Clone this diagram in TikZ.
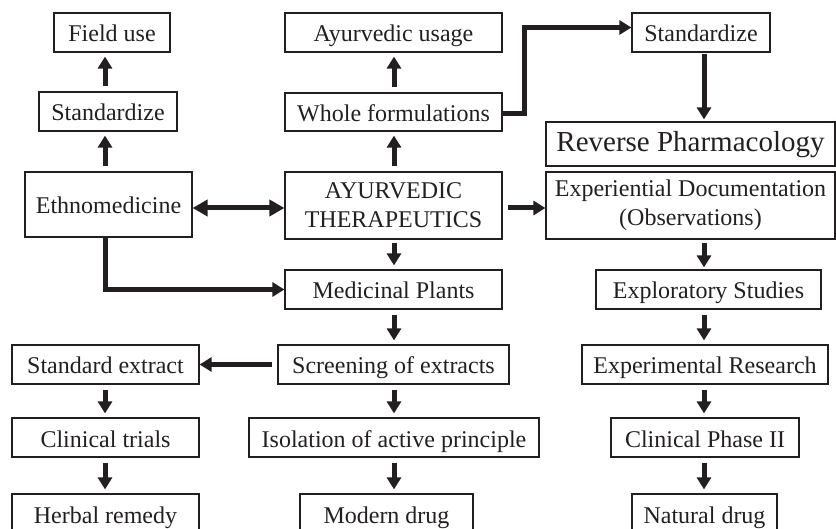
\documentclass[tikz,border=0pt]{standalone}
\usepackage{fontspec}
\setmainfont{Liberation Serif}
\usetikzlibrary{arrows.meta,calc}
\definecolor{ink}{HTML}{231F20}
\begin{document}
\begin{tikzpicture}[x=1pt,y=-1pt,
  box/.style={draw=ink,line width=1.2pt,inner sep=0pt,minimum height=39pt,align=center,text=ink,font=\fontsize{24}{29}\selectfont},
  one/.style={text height=19pt,text depth=0pt},
  arr/.style={draw=ink,line width=5pt,-{Triangle[length=12pt,width=14pt]},shorten <=5pt,shorten >=4pt},
  harr/.style={draw=ink,line width=5pt,-{Triangle[length=12pt,width=14pt]}},
  darr/.style={draw=ink,line width=5pt,{Triangle[length=15pt,width=16pt]}-{Triangle[length=15pt,width=16pt]}}]
\useasboundingbox (0,0) rectangle (836,529);
\clip (0,0) rectangle (836,529);
% left column
\node[box,one,minimum width=116pt] (fu) at (112,32.5) {Field use};
\node[box,one,minimum width=138pt] (stdL) at (108,111.5) {Standardize};
\node[box,one,minimum width=167pt,minimum height=65pt] (ethno) at (108.5,204.5) {Ethnomedicine};
\node[box,one,minimum width=187pt] (se) at (105.5,364.5) {Standard extract};
\node[box,one,minimum width=187pt] (ct) at (105.5,437.5) {Clinical trials};
\node[box,one,minimum width=187pt] (hr) at (105.5,513.5) {Herbal remedy};
% middle column
\node[box,one,minimum width=217pt] (au) at (393.5,32.5) {Ayurvedic usage};
\node[box,one,minimum width=217pt,minimum height=38pt] (wf) at (393.5,112) {Whole formulations};
\node[box,minimum width=217pt,minimum height=67pt] (at) at (393.5,205.5) {AYURVEDIC\\THERAPEUTICS};
\node[box,one,minimum width=217pt] (mp) at (393.5,289.5) {Medicinal Plants};
\node[box,one,minimum width=231pt] (sc) at (393.5,364.5) {Screening of extracts};
\node[box,one,minimum width=290pt] (iso) at (394,437.5) {Isolation of active principle};
\node[box,one,minimum width=173pt] (md) at (386.5,513.5) {Modern drug};
% right column
\node[box,one,minimum width=138pt] (stdR) at (701,32.5) {Standardize};
\node[box,minimum width=289pt,minimum height=44pt,font=\fontsize{29}{34}\selectfont,text height=16pt,text depth=0pt] (rp) at (690.5,144) {Reverse Pharmacology};
\node[box,minimum width=289pt,minimum height=67pt] (ed) at (690.5,205.5) {Experiential Documentation\\(Observations)};
\node[box,one,minimum width=225pt] (es) at (708.5,289.5) {Exploratory Studies};
\node[box,one,minimum width=246pt] (er) at (705,364.5) {Experimental Research};
\node[box,one,minimum width=188pt] (cp) at (705,437.5) {Clinical Phase II};
\node[box,one,minimum width=145pt] (nd) at (704.5,513.5) {Natural drug};
% column guide coordinates
\coordinate (xL) at (105,0);
\coordinate (xM) at (394,0);
\coordinate (xR) at (704,0);
\coordinate (yM) at (0,208);
% left arrows
\draw[arr] (stdL.north -| xL) -- (fu.south -| xL);
\draw[arr] (ethno.north -| xL) -- (stdL.south -| xL);
\draw[arr] (se.south -| xL) -- (ct.north -| xL);
\draw[arr] (ct.south -| xL) -- (hr.north -| xL);
\draw[harr] (ethno.south -| xL) |- (mp.west);
\draw[darr] (ethno.east |- yM) -- (at.west |- yM);
\draw[harr,shorten <=5pt] (sc.west) -- (se.east);
% middle arrows
\draw[arr] (wf.north -| xM) -- (au.south -| xM);
\draw[arr] (at.north -| xM) -- (wf.south -| xM);
\draw[arr,shorten <=3pt] (at.south -| xM) -- (mp.north -| xM);
\draw[arr] (mp.south -| xM) -- (sc.north -| xM);
\draw[arr] (sc.south -| xM) -- (iso.north -| xM);
\draw[arr] (iso.south -| xM) -- (md.north -| xM);
\draw[harr,shorten <=5pt] (at.east |- yM) -- (ed.west |- yM);
\draw[harr,line join=miter] ([yshift=-2pt]wf.east) -- ([xshift=22pt,yshift=-2pt]wf.east) |- ([yshift=5pt]stdR.west);
% right arrows
\draw[arr,shorten <=1pt,shorten >=2pt] (stdR.south -| xR) -- (rp.north -| xR);
\draw[arr,shorten <=3pt,shorten >=2pt] (ed.south -| xR) -- (es.north -| xR);
\draw[arr] (es.south -| xR) -- (er.north -| xR);
\draw[arr] (er.south -| xR) -- (cp.north -| xR);
\draw[arr] (cp.south -| xR) -- (nd.north -| xR);
\end{tikzpicture}
\end{document}
